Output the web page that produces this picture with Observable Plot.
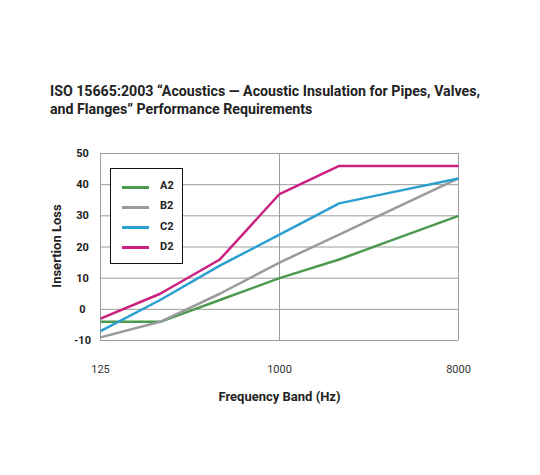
<!DOCTYPE html>
<html><head><meta charset="utf-8">
<script src="https://cdn.jsdelivr.net/npm/d3@7"></script>
<script src="https://cdn.jsdelivr.net/npm/@observablehq/plot@0.6"></script>
<style>
body{margin:0;background:#fff;font-family:Roboto,"Open Sans",sans-serif;}
#wrap{position:relative;width:540px;height:475px;overflow:hidden;}
#title{position:absolute;left:50px;top:82px;font-size:14.2px;font-weight:700;line-height:18px;color:#222;white-space:nowrap;}
#chart{position:absolute;left:0;top:135px;}
#ylabel{position:absolute;left:56px;top:246px;transform:translate(-50%,-50%) rotate(-90deg);font-size:13px;font-weight:700;color:#222;white-space:nowrap;}
#legend{position:absolute;left:110px;top:168px;width:71px;height:94px;border:1.3px solid #111;background:#fff;}
.item{position:absolute;left:0;height:20px;width:71px;}
.sw{position:absolute;left:11px;top:8.5px;width:27px;height:3px;}
.lb{position:absolute;left:49px;top:2px;font-size:11px;font-weight:700;color:#222;}
</style></head>
<body>
<div id="wrap">
<div id="title">ISO 15665:2003 “Acoustics — Acoustic Insulation for Pipes, Valves,<br>and Flanges” Performance Requirements</div>
<div id="chart"></div>
<div id="ylabel"></div>
<div id="legend"></div>
</div>
<script>
const frequencies = [125, 250, 500, 1000, 2000, 4000, 8000];
const seriesNames = ["A2", "B2", "C2", "D2"];
const a2 = [-4, -4, 3, 10, 16, 23, 30];
const b2 = [-9, -4, 5, 15, 24, 33, 42];
const c2 = [-7, 3, 14, 24, 34, 38, 42];
const d2 = [-3, 5, 16, 37, 46, 46, 46];
const xTicks = [125, 1000, 8000];
const yTicks = [-10, 0, 10, 20, 30, 40, 50];
const colors = ["#4c9a50", "#9a9a9a", "#2b9fcf", "#cc2080"];
const xLabel = "Frequency Band (Hz)";
const yLabel = "Insertion Loss";

const seriesValues = [a2, b2, c2, d2];
const data = [];
seriesNames.forEach((s, i) => {
  frequencies.forEach((f, j) => data.push({series: s, freq: f, value: seriesValues[i][j]}));
});

const chart = Plot.plot({
  width: 540,
  height: 280,
  marginLeft: 100,
  marginRight: 82,
  marginTop: 18,
  marginBottom: 75,
  style: {color: "#222", fontFamily: "Roboto, 'Open Sans', sans-serif", background: "transparent", overflow: "visible"},
  x: {type: "log", domain: [125, 8000], label: null, axis: null},
  y: {domain: [-10, 50], label: null, axis: null},
  color: {domain: seriesNames, range: colors},
  marks: [
    Plot.gridY(yTicks, {stroke: "#9c9c9c", strokeOpacity: 1}),
    Plot.gridX(xTicks, {stroke: "#9c9c9c", strokeOpacity: 1}),
    Plot.axisY(yTicks, {tickSize: 0, tickPadding: 18, textAnchor: "middle", fontWeight: 700, fontSize: 11, label: null, tickFormat: d => String(d)}),
    Plot.text(xTicks, {x: d => d, frameAnchor: "bottom", dy: 32, text: d => String(d), fontSize: 11, fill: "#333"}),
    Plot.line(data, {x: "freq", y: "value", stroke: "series", z: "series", strokeWidth: 2.5, strokeLinecap: "butt", strokeLinejoin: "round"}),
    Plot.text([xLabel], {frameAnchor: "bottom", dy: 60, fontSize: 13, fontWeight: 700, fill: "#222"})
  ]
});
document.getElementById("chart").appendChild(chart);
document.getElementById("ylabel").textContent = yLabel;

const legend = document.getElementById("legend");
seriesNames.forEach((s, i) => {
  const it = document.createElement("div");
  it.className = "item";
  it.style.top = (8 + i * 20.3) + "px";
  it.innerHTML = `<div class="sw" style="background:${colors[i]}"></div><div class="lb">${s}</div>`;
  legend.appendChild(it);
});
</script>
</body></html>
